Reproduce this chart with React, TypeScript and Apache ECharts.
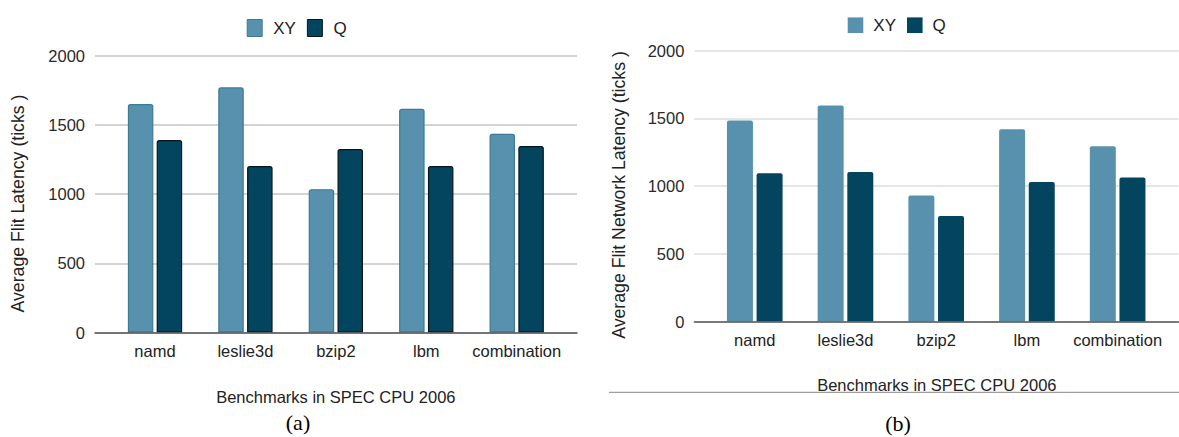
import React, { useEffect, useRef } from "react";
import * as echarts from "echarts";

const categories = ["namd", "leslie3d", "bzip2", "lbm", "combination"];
const seriesNames = ["XY", "Q"];
const latencyXY = [1650, 1770, 1035, 1615, 1435];
const latencyQ = [1390, 1202, 1325, 1202, 1347];
const netLatencyXY = [1485, 1595, 930, 1420, 1295];
const netLatencyQ = [1095, 1105, 780, 1030, 1063];
const yTicks = [0, 500, 1000, 1500, 2000];
const xTitle = "Benchmarks in SPEC CPU 2006";
const yTitleA = "Average Flit Latency (ticks )";
const yTitleB = "Average Flit Network Latency (ticks )";

const FONT = "'Liberation Sans', Arial, sans-serif";
const COL_XY = "#5891ae";
const COL_Q = "#03445f";

export default function App() {
  const ref = useRef<HTMLDivElement>(null);
  useEffect(() => {
    document.body.style.margin = "0";
    const chart = echarts.init(ref.current!, null, { renderer: "svg" });
    const yMin = yTicks[0];
    const yMax = yTicks[yTicks.length - 1];
    const yInt = yTicks[1] - yTicks[0];

    const grids = [
      { left: 95, top: 55.5, width: 482, height: 277 },
      { left: 109.8, top: 55.5, width: 452.1, height: 277 },
      { left: 694.4, top: 50.7, width: 484, height: 270.8 },
      { left: 709.4, top: 50.7, width: 453.6, height: 270.8 },
    ];

    const bgY = (gi: number) => ({
      type: "value",
      gridIndex: gi,
      min: yMin,
      max: yMax,
      interval: yInt,
      axisLine: { show: false },
      axisTick: { show: false },
      axisLabel: {
        color: "#2a2a2a",
        fontSize: 16.5,
        fontFamily: FONT,
        margin: 10,
        formatter: (v: number) => String(v),
      },
      splitLine: { lineStyle: { color: gi === 0 ? "#c4c4c4" : "#dcdcdc", width: 1.5 } },
    });
    const barY = (gi: number) => ({
      type: "value",
      gridIndex: gi,
      min: yMin,
      max: yMax,
      interval: yInt,
      show: false,
    });
    const bgX = (gi: number) => ({
      type: "category",
      gridIndex: gi,
      data: [""],
      axisLine: { show: true, lineStyle: { color: "#555", width: 1.5 } },
      axisTick: { show: false },
      axisLabel: { show: false },
      z: 5,
    });
    const barX = (gi: number) => ({
      type: "category",
      gridIndex: gi,
      data: categories,
      axisLine: { show: false },
      axisTick: { show: false },
      axisLabel: {
        color: "#222",
        fontSize: 16.5,
        lineHeight: 16,
        fontFamily: FONT,
        margin: 10.5,
        interval: 0,
      },
    });

    const option: any = {
      animation: false,
      backgroundColor: "#fff",
      grid: grids,
      xAxis: [bgX(0), barX(1), bgX(2), barX(3)],
      yAxis: [bgY(0), barY(1), bgY(2), barY(3)],
      legend: [
        {
          left: 241.7,
          top: 14,
          itemWidth: 15,
          itemHeight: 17,
          itemGap: 11,
          icon: "rect",
          textStyle: { fontSize: 17, fontFamily: FONT, color: "#222", padding: [0, 0, 0, 6] },
          data: [
            { name: seriesNames[0], itemStyle: { color: COL_XY, borderColor: "#3c7a98", borderWidth: 1 } },
            { name: seriesNames[1], itemStyle: { color: COL_Q, borderColor: "#06161f", borderWidth: 1 } },
          ],
        },
        {
          left: 842.7,
          top: 11.7,
          itemWidth: 15.6,
          itemHeight: 15.6,
          itemGap: 11,
          icon: "rect",
          textStyle: { fontSize: 17, fontFamily: FONT, color: "#222", padding: [0, 0, 0, 5] },
          data: [
            { name: seriesNames[0], itemStyle: { color: COL_XY, borderWidth: 0 } },
            { name: seriesNames[1], itemStyle: { color: COL_Q, borderWidth: 0 } },
          ],
        },
      ],
      series: [
        {
          name: seriesNames[0],
          type: "bar",
          xAxisIndex: 1,
          yAxisIndex: 1,
          data: latencyXY,
          barWidth: 25.5,
          barGap: "13%",
          itemStyle: { color: COL_XY, borderColor: "#3c7a98", borderWidth: 1.2, borderRadius: [2, 2, 0, 0] },
        },
        {
          name: seriesNames[1],
          type: "bar",
          xAxisIndex: 1,
          yAxisIndex: 1,
          data: latencyQ,
          barWidth: 25.5,
          barGap: "13%",
          itemStyle: { color: COL_Q, borderColor: "#06161f", borderWidth: 1.2, borderRadius: [2, 2, 0, 0] },
        },
        {
          name: seriesNames[0],
          type: "bar",
          xAxisIndex: 3,
          yAxisIndex: 3,
          data: netLatencyXY,
          barWidth: 26,
          barGap: "14%",
          itemStyle: { color: COL_XY, borderRadius: [2, 2, 0, 0] },
        },
        {
          name: seriesNames[1],
          type: "bar",
          xAxisIndex: 3,
          yAxisIndex: 3,
          data: netLatencyQ,
          barWidth: 26,
          barGap: "14%",
          itemStyle: { color: COL_Q, borderRadius: [2, 2, 0, 0] },
        },
      ],
      graphic: [
        {
          type: "text",
          x: 335.8,
          y: 397,
          style: { text: xTitle, fontSize: 16.5, fontFamily: FONT, fill: "#222", align: "center", verticalAlign: "middle" },
        },
        {
          type: "text",
          x: 936.8,
          y: 385,
          style: { text: xTitle, fontSize: 16.5, fontFamily: FONT, fill: "#222", align: "center", verticalAlign: "middle" },
        },
        {
          type: "text",
          x: 18,
          y: 203.5,
          rotation: Math.PI / 2,
          style: { text: yTitleA, fontSize: 17.7, fontFamily: FONT, fill: "#222", align: "center", verticalAlign: "middle" },
        },
        {
          type: "text",
          x: 618.5,
          y: 195,
          rotation: Math.PI / 2,
          style: { text: yTitleB, fontSize: 17.7, fontFamily: FONT, fill: "#222", align: "center", verticalAlign: "middle" },
        },
        {
          type: "line",
          shape: { x1: 609, y1: 392.3, x2: 1179, y2: 392.3 },
          style: { stroke: "#888", lineWidth: 1 },
        },
        {
          type: "text",
          x: 298,
          y: 422,
          style: { text: "(a)", fontSize: 22, fontFamily: "'Liberation Serif', 'Times New Roman', serif", fill: "#000", align: "center", verticalAlign: "middle" },
        },
        {
          type: "text",
          x: 898,
          y: 423,
          style: { text: "(b)", fontSize: 22, fontFamily: "'Liberation Serif', 'Times New Roman', serif", fill: "#000", align: "center", verticalAlign: "middle" },
        },
      ],
    };
    chart.setOption(option);
    return () => chart.dispose();
  }, []);
  return <div ref={ref} style={{ width: 1179, height: 437 }} />;
}
